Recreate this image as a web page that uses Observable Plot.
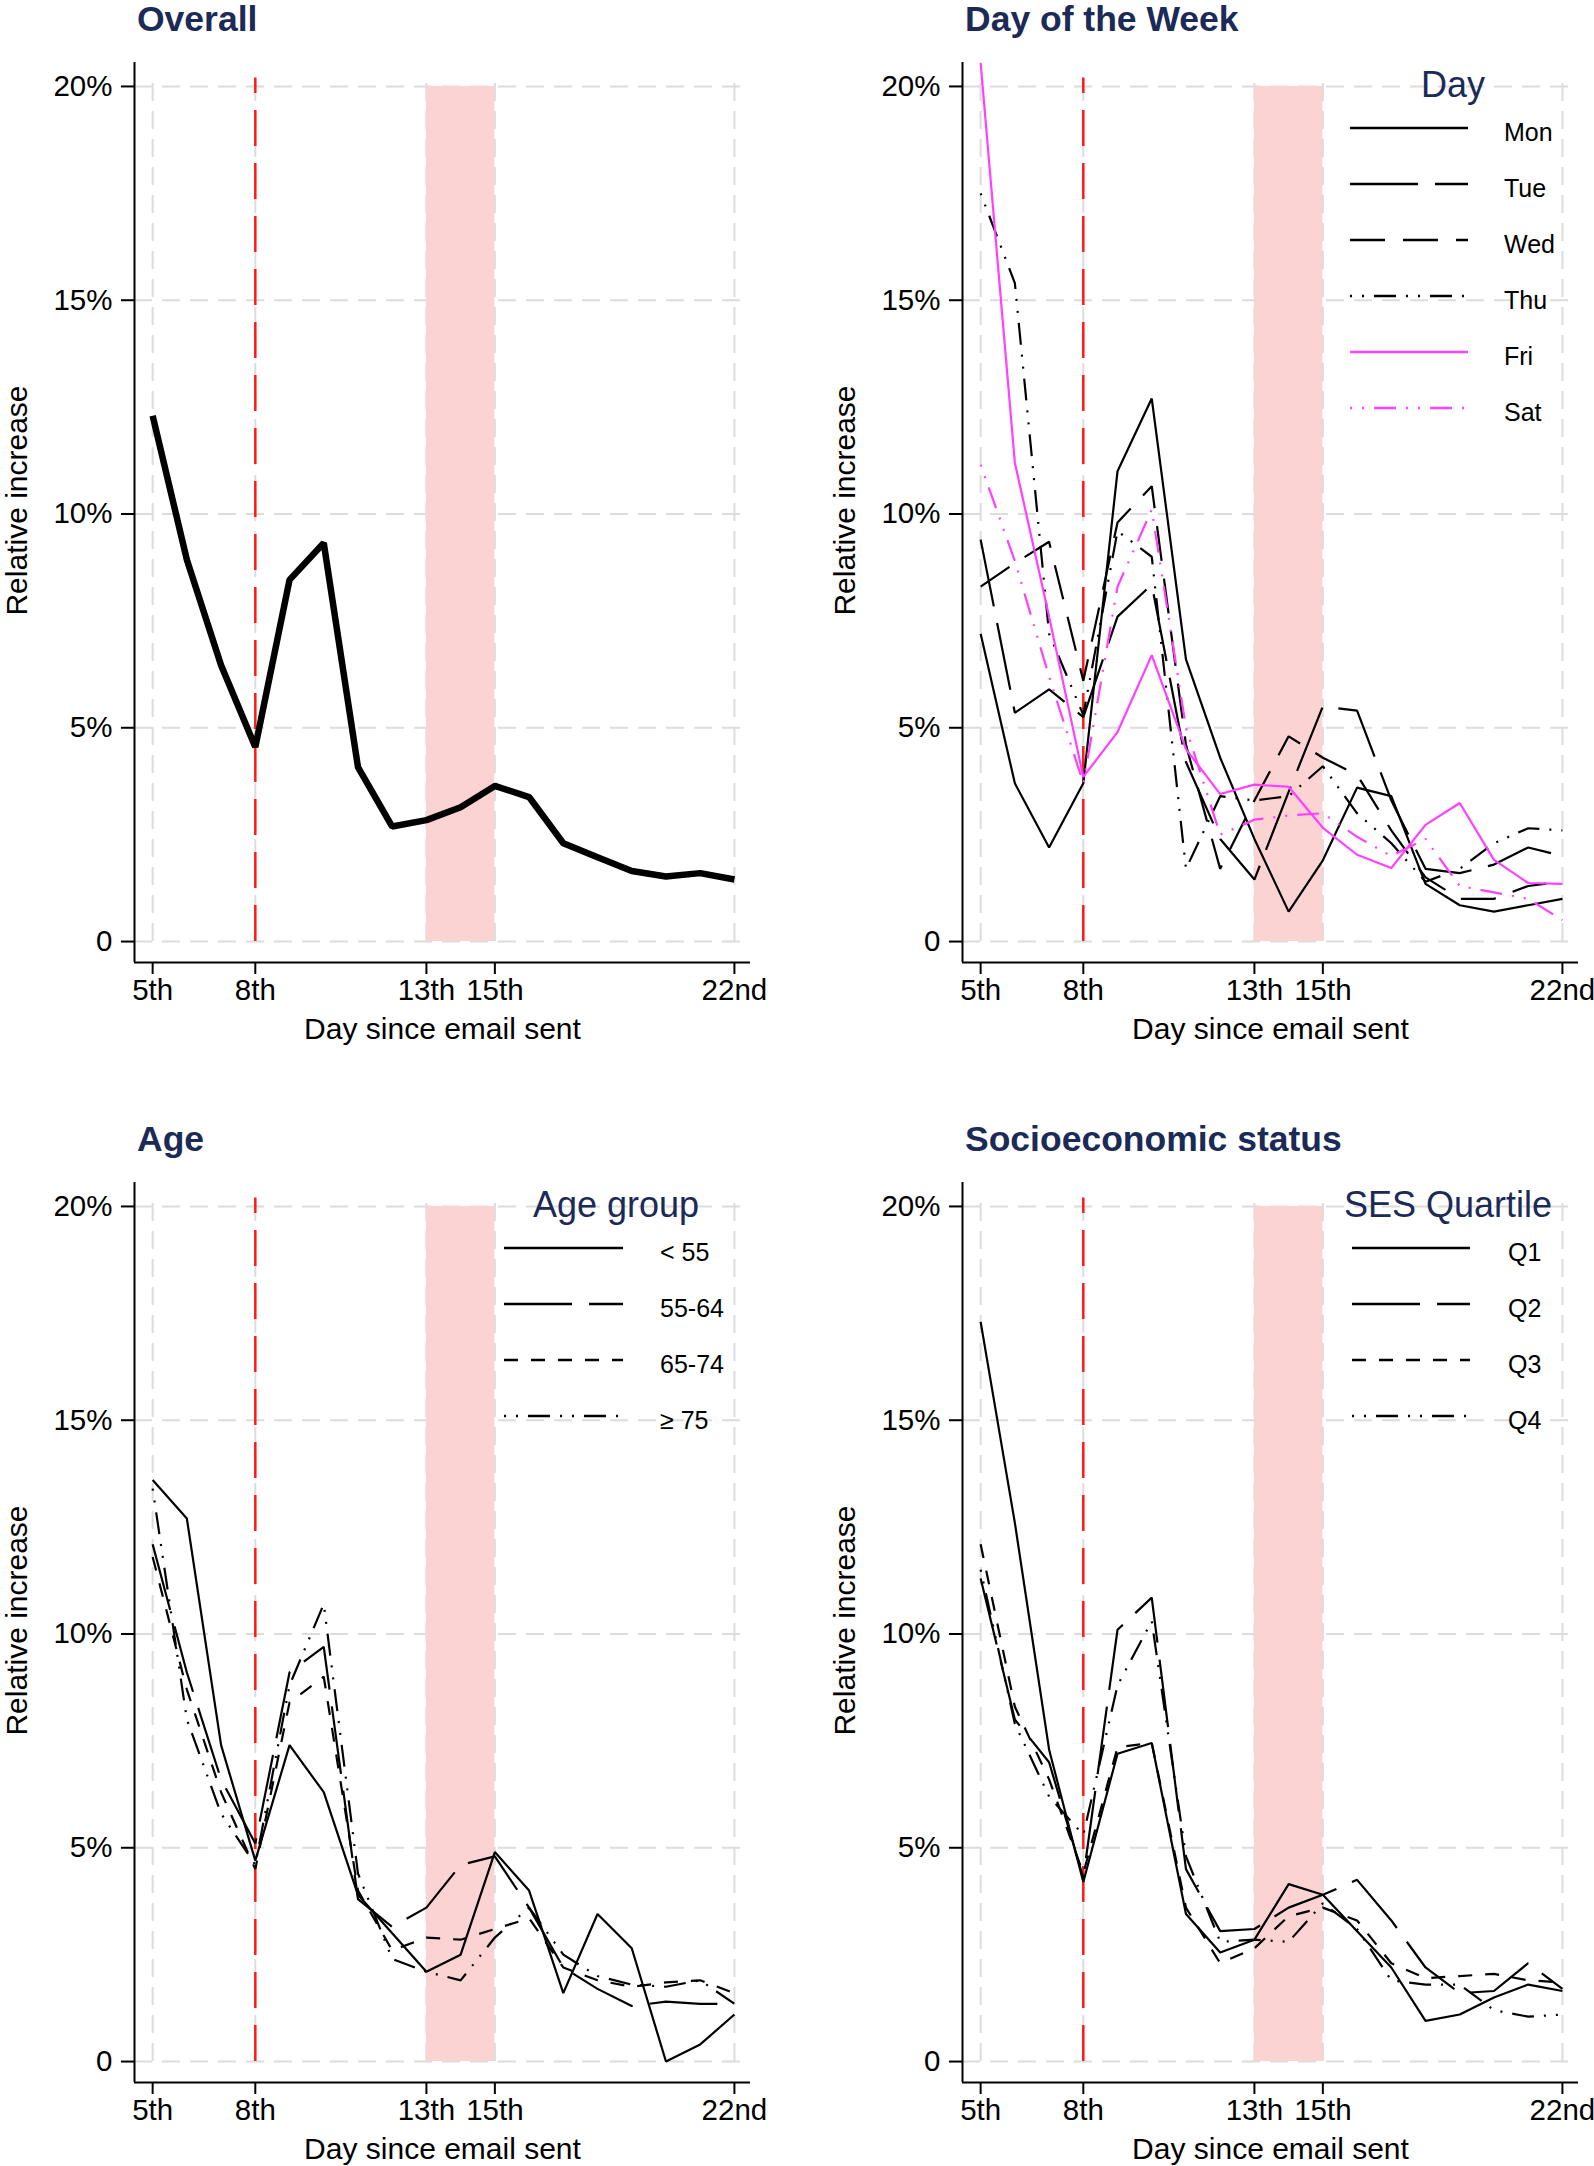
<!DOCTYPE html>
<html><head><meta charset="utf-8">
<script src="https://cdn.jsdelivr.net/npm/d3@7"></script>
<script src="https://cdn.jsdelivr.net/npm/@observablehq/plot@0.6"></script>
<style>
body{margin:0;background:#fff;}
#root{position:relative;width:1594px;height:2166px;background:#fff;overflow:hidden;font-family:"Liberation Sans",Arial,Helvetica,sans-serif;}
.panel{position:absolute;width:763px;height:1046px;}
</style></head><body><div id="root"></div>
<script>
// ---------- data ----------
const days = [5,6,7,8,9,10,11,12,13,14,15,16,17,18,19,20,21,22];
const xTicks = [5,8,13,15,22];
const xTickLabels = ["5th","8th","13th","15th","22nd"];
const yTicks = [0,5,10,15,20];
const yTickLabels = ["0","5%","10%","15%","20%"];
const emailDay = 8;
const shadedDays = [13,15];

const overall = [12.3,8.93,6.46,4.55,8.46,9.32,4.08,2.69,2.84,3.14,3.64,3.38,2.30,1.97,1.65,1.52,1.60,1.45];

const dayNames = ["Mon","Tue","Wed","Thu","Fri","Sat"];
const dowMon = [7.2,3.7,2.2,3.7,11.0,12.7,6.6,4.3,2.4,0.7,1.9,3.6,3.4,1.35,0.85,0.7,0.85,1.0];
const dowTue = [9.4,5.35,5.9,5.25,7.6,8.35,4.2,2.4,1.45,3.5,5.5,5.4,3.3,1.7,1.6,1.8,2.2,2.0];
const dowWed = [8.3,8.85,9.35,6.1,9.8,10.65,4.6,1.7,3.3,4.8,4.3,3.9,2.6,1.5,1.0,1.0,1.3,1.4];
const dowThu = [17.5,15.4,7.2,5.3,9.6,9.0,1.7,3.4,3.3,3.4,4.1,3.0,2.3,1.4,1.7,2.3,2.65,2.6];
const dowFri = [20.55,11.2,7.6,3.85,4.9,6.7,4.5,3.45,3.67,3.62,2.66,2.03,1.72,2.73,3.24,1.91,1.37,1.35];
const dowSat = [11.15,8.9,6.2,3.7,8.3,10.1,5.0,2.5,2.85,2.95,3.0,2.45,2.0,2.4,1.3,1.15,1.0,0.5];

const ageNames = ["< 55","55-64","65-74","\u2265 75"];
const ageU55 = [13.6,12.7,7.4,4.7,7.4,6.3,3.9,3.0,2.1,2.5,4.9,4.0,1.6,3.45,2.65,0.0,0.4,1.1];
const age5564 = [12.1,9.1,6.6,5.1,9.1,9.7,3.8,3.15,3.6,4.6,4.8,3.6,2.2,1.7,1.3,1.4,1.35,1.35];
const age6574 = [11.8,8.7,6.3,4.5,8.4,9.0,4.0,2.6,2.9,2.85,3.1,3.35,2.2,1.9,1.75,1.85,1.9,1.6];
const age75 = [13.4,8.0,5.8,4.6,8.8,10.7,4.4,2.4,2.1,1.9,2.9,3.6,2.5,2.0,1.8,1.75,1.9,1.35];

const sesNames = ["Q1","Q2","Q3","Q4"];
const sesQ1 = [17.3,12.6,7.3,4.2,7.2,7.45,3.45,2.55,2.85,4.15,3.9,3.05,2.2,0.95,1.1,1.5,1.8,1.65];
const sesQ2 = [11.3,8.0,7.0,4.3,10.1,10.85,4.5,3.05,3.1,3.6,3.9,4.25,3.3,2.2,1.6,1.65,2.3,1.7];
const sesQ3 = [12.1,8.3,6.6,4.4,7.35,7.45,3.6,2.3,2.65,3.4,3.6,3.3,2.3,1.95,2.0,2.05,1.9,1.85];
const sesQ4 = [11.5,7.9,6.2,5.3,8.8,10.3,4.8,2.8,2.85,2.8,3.7,3.1,1.9,1.8,1.8,1.2,1.05,1.1];

// ---------- styles ----------
const NAVY = "#1b2a56", MAGENTA = "#ff40ff";
const DASH = {solid: undefined, longdash: "68,17", dash: "35,18", shortdash: "14,13", dashdot: "2,10,2,10,22,10"};
const W = 763, H = 1046;
const xDomain = [4.47, 22.47];
const yDomain = [-0.49, 20.56];
const FONT = '"Liberation Sans", Arial, Helvetica, sans-serif';
const gridStyle = {stroke: "#dcdcdc", strokeWidth: 2, strokeDasharray: "18,10"};

function rows(arr) { return days.map((d, i) => ({day: d, value: arr[i]})); }

function panel({left, top, title, series, legend}) {
  const div = document.createElement("div");
  div.className = "panel";
  div.style.left = left + "px";
  div.style.top = top + "px";
  document.getElementById("root").appendChild(div);

  const marks = [
    Plot.ruleY(yTicks, gridStyle),
    Plot.ruleX(xTicks, {...gridStyle, y1: 0, y2: 20.25}),
    Plot.rect([shadedDays], {x1: d => d[0], x2: d => d[1], y1: 0, y2: yTicks[yTicks.length - 1], fill: "#fcd3d3"}),
    Plot.ruleX([emailDay], {y1: 0, y2: 20.2, stroke: "#ff1a1a", strokeWidth: 2.5, strokeDasharray: "36,17"}),
    ...series.map(s => Plot.line(rows(s.values), {x: "day", y: "value", stroke: s.color, strokeWidth: s.width, strokeDasharray: s.dash, strokeLinejoin: "miter", strokeLinecap: "butt"})),
    Plot.ruleX([xDomain[0]], {stroke: "black", strokeWidth: 2}),
    Plot.ruleY([yDomain[0]], {stroke: "black", strokeWidth: 2}),
    Plot.axisX({ticks: xTicks, tickFormat: d => xTickLabels[xTicks.indexOf(d)], tickSize: 12, tickPadding: 5, label: null, fontSize: 29.5, strokeWidth: 2}),
    Plot.axisY({ticks: yTicks, tickFormat: d => yTickLabels[yTicks.indexOf(d)], tickSize: 13, tickPadding: 9, label: null, fontSize: 29.5, strokeWidth: 2}),
    Plot.text(["Day since email sent"], {text: d => d, frameAnchor: "bottom", dy: 67, fontSize: 30, textAnchor: "middle", lineAnchor: "middle"}),
    Plot.text(["Relative increase"], {text: d => d, frameAnchor: "left", dx: -117, dy: -12, rotate: -90, fontSize: 30, textAnchor: "middle", lineAnchor: "middle"})
  ];
  const svg = Plot.plot({
    width: W, height: H,
    marginLeft: 134, marginRight: 13, marginTop: 62, marginBottom: 84,
    x: {domain: xDomain}, y: {domain: yDomain},
    style: {fontFamily: FONT, color: "black", background: "white", overflow: "visible"},
    marks
  });
  div.appendChild(svg);

  // overlay: title + legend
  const ov = d3.select(div).append("svg")
    .attr("width", W).attr("height", H)
    .style("position", "absolute").style("left", 0).style("top", 0)
    .style("overflow", "visible").style("pointer-events", "none")
    .style("font-family", FONT);
  ov.append("text").attr("x", 137).attr("y", 31)
    .attr("font-size", 35.5).attr("font-weight", "bold").attr("fill", NAVY).text(title);
  if (legend) {
    ov.append("text").attr("x", legend.titleX).attr("y", 97).attr("text-anchor", "middle")
      .attr("font-size", 36).attr("fill", NAVY).text(legend.title);
    series.forEach((s, i) => {
      const y = 128 + 56 * i;
      ov.append("line").attr("x1", legend.x1).attr("x2", legend.x2).attr("y1", y).attr("y2", y)
        .attr("stroke", s.color).attr("stroke-width", 2.4)
        .attr("stroke-dasharray", s.dash || null);
      ov.append("text").attr("x", legend.labelX).attr("y", y + 13)
        .attr("font-size", 25).attr("fill", "black").text(s.name);
    });
  }
}

panel({left: 0, top: 0, title: "Overall",
  series: [{values: overall, color: "black", width: 6.5, dash: DASH.solid}]});

panel({left: 828, top: 0, title: "Day of the Week",
  legend: {title: "Day", titleX: 625, x1: 522, x2: 640, labelX: 676},
  series: [
    {name: dayNames[0], values: dowMon, color: "black", width: 2.2, dash: DASH.solid},
    {name: dayNames[1], values: dowTue, color: "black", width: 2.2, dash: DASH.longdash},
    {name: dayNames[2], values: dowWed, color: "black", width: 2.2, dash: DASH.dash},
    {name: dayNames[3], values: dowThu, color: "black", width: 2.2, dash: DASH.dashdot},
    {name: dayNames[4], values: dowFri, color: MAGENTA, width: 2.2, dash: DASH.solid},
    {name: dayNames[5], values: dowSat, color: MAGENTA, width: 2.2, dash: DASH.dashdot}
  ]});

panel({left: 0, top: 1120, title: "Age",
  legend: {title: "Age group", titleX: 616, x1: 504, x2: 623, labelX: 660},
  series: [
    {name: ageNames[0], values: ageU55, color: "black", width: 2.2, dash: DASH.solid},
    {name: ageNames[1], values: age5564, color: "black", width: 2.2, dash: DASH.longdash},
    {name: ageNames[2], values: age6574, color: "black", width: 2.2, dash: DASH.shortdash},
    {name: ageNames[3], values: age75, color: "black", width: 2.2, dash: DASH.dashdot}
  ]});

panel({left: 828, top: 1120, title: "Socioeconomic status",
  legend: {title: "SES Quartile", titleX: 620, x1: 524, x2: 642, labelX: 680},
  series: [
    {name: sesNames[0], values: sesQ1, color: "black", width: 2.2, dash: DASH.solid},
    {name: sesNames[1], values: sesQ2, color: "black", width: 2.2, dash: DASH.longdash},
    {name: sesNames[2], values: sesQ3, color: "black", width: 2.2, dash: DASH.shortdash},
    {name: sesNames[3], values: sesQ4, color: "black", width: 2.2, dash: DASH.dashdot}
  ]});
</script>
</body></html>
